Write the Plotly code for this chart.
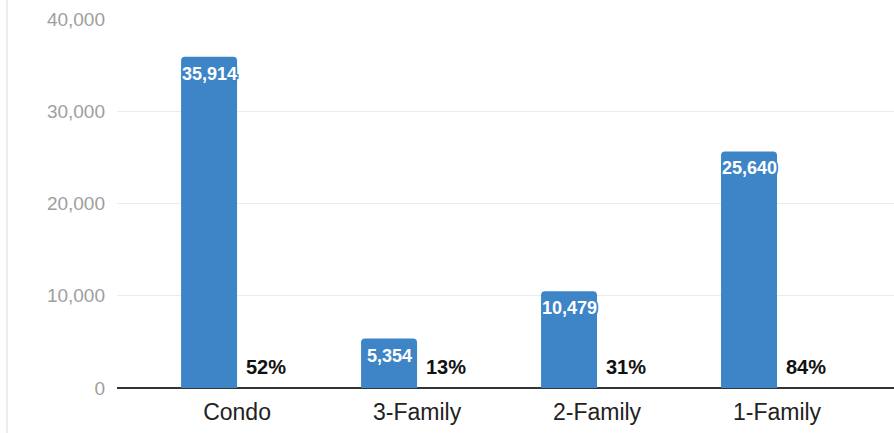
import plotly.graph_objects as go

categories = ["Condo", "3-Family", "2-Family", "1-Family"]
counts = [35914, 5354, 10479, 25640]
shares = [0.52, 0.13, 0.31, 0.84]
count_labels = [f"{v:,}" for v in counts]
share_labels = [f"{round(s*100)}%" for s in shares]
y_ticks = [0, 10000, 20000, 30000, 40000]

blue = "#3d85c6"
outline = ",".join(f"{dx}px {dy}px 0 {blue}" for dx in (-1.5, 0, 1.5) for dy in (-1.5, 0, 1.5) if dx or dy)
FONT = "Liberation Sans, Arial, sans-serif"

fig = go.Figure()
fig.add_trace(go.Bar(
    x=categories, y=counts, marker_color=blue, marker_line_width=0,
))
fig.add_trace(go.Bar(
    x=categories, y=shares, marker_color="rgba(0,0,0,0)", marker_line_width=0,
))

for cat, v, lab in zip(categories, counts, count_labels):
    fig.add_annotation(
        x=cat, y=v, text=f"<b>{lab}</b>", showarrow=False,
        xanchor="center", yanchor="top", xshift=-28, yshift=-5,
        font=dict(family=FONT, size=18, color="white", shadow=outline),
    )

for cat, s, lab in zip(categories, shares, share_labels):
    fig.add_annotation(
        x=cat, y=s, text=f"<b>{lab}</b>", showarrow=False,
        xanchor="center", yanchor="bottom", xshift=29, yshift=8,
        font=dict(family=FONT, size=20, color="#111111"),
    )

fig.update_layout(
    width=894, height=433,
    margin=dict(l=117, r=0, t=19, b=45),
    paper_bgcolor="white", plot_bgcolor="white",
    barmode="group", bargap=0.378, bargroupgap=0,
    barcornerradius=4,
    showlegend=False,
    font=dict(family=FONT),
    xaxis=dict(
        range=[-0.667, 3.65], showgrid=False, ticks="",
        tickfont=dict(size=23, color="#222222"),
        showline=False, zeroline=False, ticklabelstandoff=8,
    ),
    yaxis=dict(
        range=[0, 40000], tickvals=y_ticks, ticktext=[f"{v:,}" for v in y_ticks],
        tickfont=dict(size=19, color="#9e9e9e"),
        gridcolor="#ebebeb", gridwidth=1,
        zeroline=True, zerolinecolor="#333333", zerolinewidth=1.5,
        ticks="", ticklabelstandoff=11, showline=False,
    ),
    shapes=[dict(type="line", xref="paper", yref="paper",
                 x0=(7 - 117) / 777, x1=(7 - 117) / 777, y0=-45 / 369, y1=1 + 19 / 369,
                 line=dict(color="#e6e6e6", width=1.5))],
)

fig.write_html("out.html")
